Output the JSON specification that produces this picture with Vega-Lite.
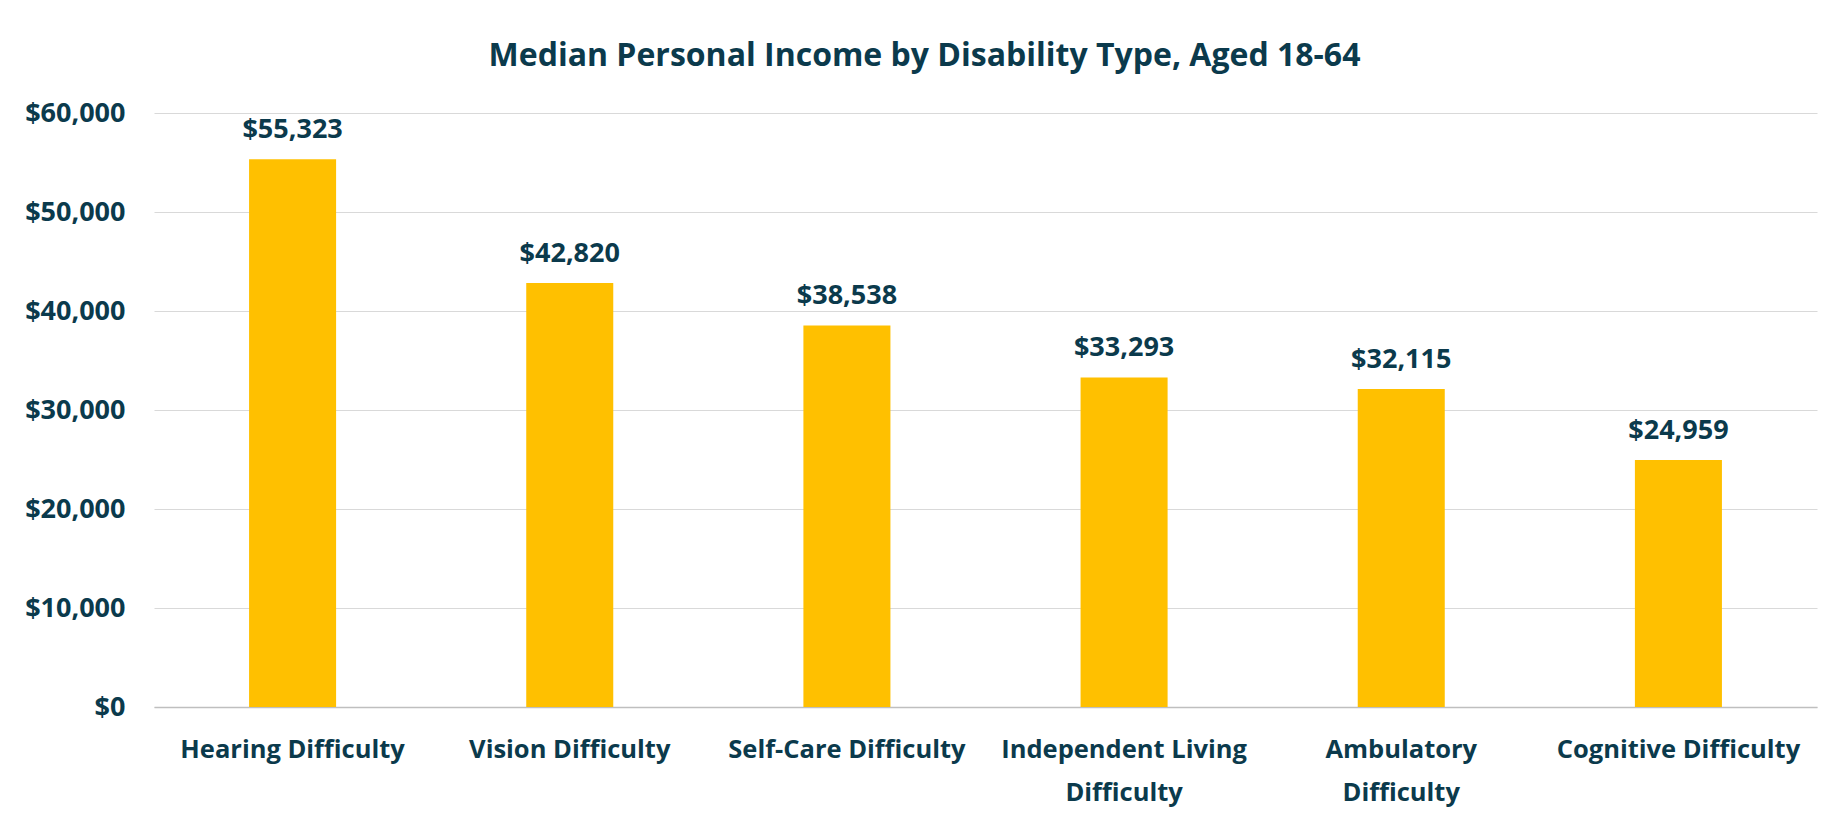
{
  "$schema": "https://vega.github.io/schema/vega-lite/v6.json",
  "width": 1663,
  "height": 594,
  "autosize": {"type": "none"},
  "padding": {"left": 154, "top": 113, "right": 30, "bottom": 116},
  "background": "white",
  "title": {
    "text": "Median Personal Income by Disability Type, Aged 18-64",
    "frame": "group",
    "anchor": "middle",
    "dx": -61,
    "offset": 1,
    "baseline": "alphabetic",
    "font": "Open Sans",
    "fontSize": 32,
    "fontWeight": "bold",
    "color": "#0B3A4C"
  },
  "data": {
    "values": [
      {"type": "Hearing Difficulty", "income": 55323},
      {"type": "Vision Difficulty", "income": 42820},
      {"type": "Self-Care Difficulty", "income": 38538},
      {"type": "Independent Living Difficulty", "income": 33293},
      {"type": "Ambulatory Difficulty", "income": 32115},
      {"type": "Cognitive Difficulty", "income": 24959}
    ]
  },
  "encoding": {
    "x": {
      "field": "type",
      "type": "nominal",
      "sort": null,
      "scale": {"paddingInner": 0.686, "paddingOuter": 0.343},
      "axis": {
        "title": null,
        "labelAngle": 0,
        "ticks": false,
        "domain": true,
        "domainColor": "#bfbfbf",
        "domainWidth": 1.5,
        "labelPadding": 30,
        "labelFont": "Open Sans",
        "labelFontSize": 25.5,
        "labelFontWeight": "bold",
        "labelColor": "#0B3A4C",
        "labelLineHeight": 43,
        "labelLimit": 400,
        "labelExpr": "length(datum.label) > 20 ? [substring(datum.label, 0, lastindexof(datum.label, ' ')), substring(datum.label, lastindexof(datum.label, ' ') + 1)] : datum.label"
      }
    },
    "y": {
      "field": "income",
      "type": "quantitative",
      "scale": {"domain": [0, 60000], "nice": false},
      "axis": {
        "title": null,
        "values": [0, 10000, 20000, 30000, 40000, 50000, 60000],
        "format": "$,.0f",
        "domain": false,
        "ticks": false,
        "grid": true,
        "gridColor": "#d9d9d9",
        "gridWidth": 1.2,
        "labelPadding": 29,
        "labelFont": "Open Sans",
        "labelFontSize": 27,
        "labelFontWeight": "bold",
        "labelColor": "#0B3A4C"
      }
    }
  },
  "layer": [
    {"mark": {"type": "bar", "color": "#FFC000"}},
    {
      "mark": {
        "type": "text",
        "baseline": "alphabetic",
        "dy": -21,
        "font": "Open Sans",
        "fontSize": 27,
        "fontWeight": "bold",
        "color": "#0B3A4C"
      },
      "encoding": {
        "text": {"field": "income", "type": "quantitative", "format": "$,.0f"}
      }
    }
  ],
  "config": {"view": {"stroke": null}}
}
